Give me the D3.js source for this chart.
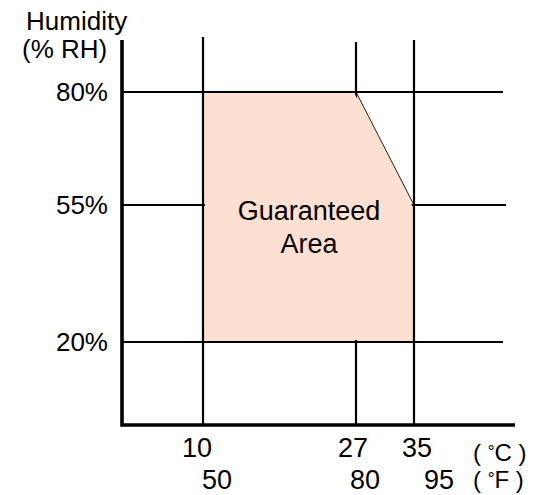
<!DOCTYPE html>
<html>
<head>
<meta charset="utf-8">
<script src="https://cdn.jsdelivr.net/npm/d3@7"></script>
<style>
  body { margin: 0; background: #fff; }
  svg { display: block; font-family: "Liberation Sans", Arial, sans-serif; }
</style>
</head>
<body>
<div id="chart"></div>
<script>
// data
const tempC = [10, 27, 35];
const tempF = [50, 80, 95];
const humidity = [20, 55, 80];
const humidityLabels = ['20%', '55%', '80%'];
// guaranteed operating area, [°C, %RH]
const areaTemp = [10, 10, 27, 35, 35];
const areaRH = [20, 80, 80, 55, 20];

const width = 535, height = 495;
const originX = 122, originY = 425;

const svg = d3.select('#chart').append('svg')
  .attr('width', width)
  .attr('height', height);

// the drawing is not to scale, so piecewise scales
const x = d3.scaleLinear().domain(tempC).range([203, 356, 414]);
const y = d3.scaleLinear().domain(humidity).range([342, 205, 92]);

const pts = areaTemp.map((t, i) => [x(t), y(areaRH[i])]);
const areaPath = d3.line()(pts) + 'Z';

// grid lines do not cross the area
const mask = svg.append('defs').append('mask').attr('id', 'area_mask');
mask.append('rect').attr('width', width).attr('height', height).attr('fill', '#fff');
mask.append('path')
  .attr('d', areaPath)
  .attr('fill', '#000')
  .attr('stroke', '#fff')
  .attr('stroke-width', 4);

// area
svg.append('path')
  .attr('d', areaPath)
  .attr('fill', '#fde0d1')
  .attr('stroke', '#222')
  .attr('stroke-width', 1);

const grid = svg.append('g').attr('mask', 'url(#area_mask)');

// horizontal grid lines
const hEnd = {20: 503, 55: 506, 80: 503};
grid.append('g').selectAll('line')
  .data(humidity)
  .join('line')
  .attr('x1', originX)
  .attr('x2', d => hEnd[d])
  .attr('y1', d => y(d))
  .attr('y2', d => y(d))
  .attr('stroke', '#000')
  .attr('stroke-width', 2.2);

// vertical grid lines
const vTop = {10: 37, 27: 42, 35: 40};
grid.append('g').selectAll('line')
  .data(tempC)
  .join('line')
  .attr('x1', d => x(d))
  .attr('x2', d => x(d))
  .attr('y1', d => vTop[d])
  .attr('y2', originY)
  .attr('stroke', '#000')
  .attr('stroke-width', 2.2);

// axes
svg.append('path')
  .attr('d', `M${originX},40V${originY}H515`)
  .attr('fill', 'none')
  .attr('stroke', '#000')
  .attr('stroke-width', 3.6);

// y labels
svg.append('g').selectAll('text')
  .data(humidity)
  .join('text')
  .attr('x', 108)
  .attr('y', d => y(d) + 9)
  .attr('text-anchor', 'end')
  .attr('font-size', 26)
  .text((d, i) => humidityLabels[i]);

svg.append('text').attr('x', 26).attr('y', 30).attr('font-size', 26).text('Humidity');
svg.append('text').attr('x', 22).attr('y', 58).attr('font-size', 26).text('(% RH)');

// x labels
const cOff = {10: -6, 27: -3, 35: 3};
const fOff = {10: 14, 27: 9, 35: 25};
svg.append('g').selectAll('text')
  .data(tempC)
  .join('text')
  .attr('x', d => x(d) + cOff[d])
  .attr('y', 457)
  .attr('text-anchor', 'middle')
  .attr('font-size', 27)
  .text(d => d);
svg.append('g').selectAll('text')
  .data(tempF)
  .join('text')
  .attr('x', (d, i) => x(tempC[i]) + fOff[tempC[i]])
  .attr('y', 489)
  .attr('text-anchor', 'middle')
  .attr('font-size', 27)
  .text(d => d);

// units
function unit(yy, u) {
  const t = svg.append('text').attr('x', 473).attr('y', yy).attr('font-size', 24);
  t.append('tspan').text('( ');
  t.append('tspan').attr('font-size', 17).attr('dy', -4).text('°');
  t.append('tspan').attr('dy', 4).text(u + ' )');
}
unit(461, 'C');
unit(488, 'F');

// area label
svg.append('text')
  .attr('x', 309).attr('y', 220)
  .attr('text-anchor', 'middle')
  .attr('font-size', 27)
  .text('Guaranteed');
svg.append('text')
  .attr('x', 309).attr('y', 253)
  .attr('text-anchor', 'middle')
  .attr('font-size', 27)
  .text('Area');
</script>
</body>
</html>
